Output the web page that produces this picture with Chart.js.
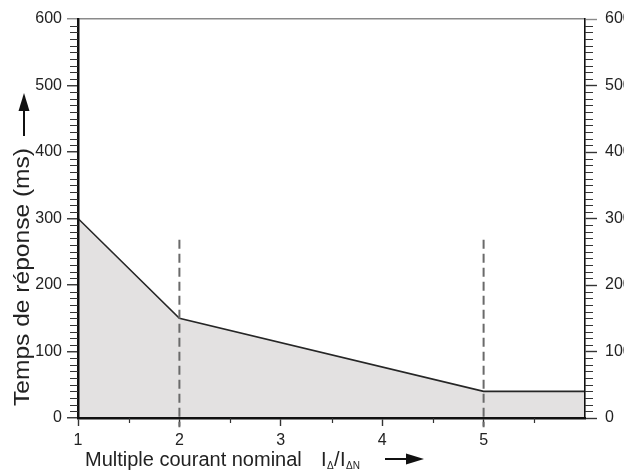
<!DOCTYPE html>
<html>
<head>
<meta charset="utf-8">
<script src="https://cdn.jsdelivr.net/npm/chart.js@4/dist/chart.umd.min.js"></script>
<style>
    html, body { margin: 0; padding: 0; background: #fff; overflow: hidden; }
    #wrap { position: relative; width: 624px; height: 475px; }
</style>
</head>
<body>
<div id="wrap"><canvas id="chart" width="624" height="475"></canvas></div>
<script>
// values
const multiples = [1, 2, 5, 6];
const responseMs = [300, 150, 40, 40];
const markerMultiples = [2, 5];
const markerRange = [268, -14];
const yMajorTicks = [0, 100, 200, 300, 400, 500, 600];
const xLabelTicks = [1, 2, 3, 4, 5];

const FONT = "'Liberation Sans', Arial, sans-serif";
const INK = '#222';

const isMajorY = (v) => yMajorTicks.includes(v);

// minor ticks, axis titles and arrows
const decorations = {
    id: 'decorations',
    afterDraw(chart) {
        const { ctx, chartArea } = chart;
        const y = chart.scales.y;
        const x = chart.scales.x;
        ctx.save();
        ctx.strokeStyle = '#333';
        ctx.lineWidth = 1.2;
        ctx.beginPath();
        for (let v = 0; v <= 600; v += 10) {
            if (isMajorY(v)) continue;
            const py = Math.round(y.getPixelForValue(v)) + 0.5;
            ctx.moveTo(chartArea.left - 8, py);
            ctx.lineTo(chartArea.left, py);
            ctx.moveTo(chartArea.right, py);
            ctx.lineTo(chartArea.right + 8, py);
        }
        for (let v = 1.5; v < 6; v += 1) {
            const px = Math.round(x.getPixelForValue(v)) + 0.5;
            ctx.moveTo(px, chartArea.bottom);
            ctx.lineTo(px, chartArea.bottom + 5);
        }
        ctx.stroke();

        // y title, stretched a bit like the scan
        ctx.fillStyle = INK;
        ctx.font = `22px ${FONT}`;
        const yTitle = 'Temps de réponse (ms)';
        const w = ctx.measureText(yTitle).width;
        ctx.save();
        ctx.translate(29, 277);
        ctx.rotate(-Math.PI / 2);
        ctx.scale(258 / w, 1);
        ctx.textAlign = 'center';
        ctx.textBaseline = 'alphabetic';
        ctx.fillText(yTitle, 0, 0);
        ctx.restore();

        // y arrow
        ctx.strokeStyle = '#111';
        ctx.lineWidth = 2;
        ctx.beginPath();
        ctx.moveTo(24, 136);
        ctx.lineTo(24, 106);
        ctx.stroke();
        ctx.fillStyle = '#111';
        ctx.beginPath();
        ctx.moveTo(24, 93);
        ctx.lineTo(18.5, 111);
        ctx.lineTo(29.5, 111);
        ctx.closePath();
        ctx.fill();

        // x title with subscripts
        ctx.fillStyle = INK;
        ctx.textAlign = 'left';
        ctx.textBaseline = 'alphabetic';
        ctx.font = `20px ${FONT}`;
        ctx.fillText('Multiple courant nominal', 85, 466);
        ctx.fillText('I', 321, 466);
        ctx.font = `10px ${FONT}`;
        ctx.fillText('Δ', 327, 469);
        ctx.font = `20px ${FONT}`;
        ctx.fillText('/', 334, 466);
        ctx.fillText('I', 340, 466);
        ctx.font = `10px ${FONT}`;
        ctx.fillText('ΔN', 346, 469);

        // x arrow
        ctx.strokeStyle = '#111';
        ctx.lineWidth = 2;
        ctx.beginPath();
        ctx.moveTo(385, 459);
        ctx.lineTo(410, 459);
        ctx.stroke();
        ctx.fillStyle = '#111';
        ctx.beginPath();
        ctx.moveTo(424, 459);
        ctx.lineTo(406, 453.5);
        ctx.lineTo(406, 464.5);
        ctx.closePath();
        ctx.fill();
        ctx.restore();
    }
};

const markerSets = markerMultiples.map(m => ({
    data: markerRange.map(v => ({ x: m, y: v })),
    borderColor: '#6a6a6a',
    borderWidth: 2,
    borderDash: [9, 5],
    pointRadius: 0,
    fill: false,
    clip: false,
    order: 0
}));

new Chart(document.getElementById('chart'), {
    type: 'line',
    data: {
        datasets: [
            ...markerSets,
            {
                data: multiples.map((m, i) => ({ x: m, y: responseMs[i] })),
                borderColor: '#262626',
                borderWidth: 1.6,
                backgroundColor: '#e3e1e1',
                fill: 'origin',
                tension: 0,
                pointRadius: 0,
                order: 1
            }
        ]
    },
    options: {
        responsive: false,
        animation: false,
        layout: { padding: { top: 19, left: 0, right: 0, bottom: 0 } },
        plugins: {
            legend: { display: false },
            tooltip: { enabled: false }
        },
        scales: {
            x: {
                type: 'linear',
                min: 1,
                max: 6,
                afterFit: (s) => { s.height = 57; },
                border: { display: true, color: '#111', width: 2.5, z: 1 },
                grid: {
                    drawOnChartArea: false,
                    tickLength: 8,
                    tickWidth: 1.4,
                    tickColor: (c) => (xLabelTicks.includes(c.tick.value) ? '#333' : 'transparent')
                },
                ticks: {
                    stepSize: 0.5,
                    autoSkip: false,
                    maxRotation: 0,
                    padding: 5,
                    color: INK,
                    font: { family: FONT, size: 16 },
                    callback: (v) => (xLabelTicks.includes(v) ? String(v) : '')
                }
            },
            y: {
                position: 'left',
                min: 0,
                max: 600,
                afterFit: (s) => { s.width = 78; },
                border: { display: true, color: '#111', width: 2.5, z: 1 },
                grid: {
                    drawOnChartArea: true,
                    tickLength: 11,
                    lineWidth: 1.5,
                    tickWidth: 1.4,
                    color: (c) => (c.tick && c.tick.value === 600 ? '#8a8a8a' : 'transparent'),
                    tickColor: (c) => {
                        if (c.tick.value === 600) return '#8a8a8a';
                        return isMajorY(c.tick.value) ? '#333' : 'transparent';
                    }
                },
                ticks: {
                    stepSize: 10,
                    autoSkip: false,
                    padding: 5,
                    color: INK,
                    font: { family: FONT, size: 16 },
                    callback: (v) => (isMajorY(v) ? String(v) : '')
                }
            },
            y2: {
                position: 'right',
                min: 0,
                max: 600,
                afterFit: (s) => { s.width = 39; },
                border: { display: true, color: '#111', width: 1.6, z: 1 },
                grid: {
                    drawOnChartArea: false,
                    tickLength: 12,
                    tickWidth: 1.4,
                    tickColor: (c) => {
                        if (c.tick.value === 600) return '#8a8a8a';
                        return isMajorY(c.tick.value) ? '#333' : 'transparent';
                    }
                },
                ticks: {
                    stepSize: 10,
                    autoSkip: false,
                    padding: 8,
                    color: INK,
                    font: { family: FONT, size: 16 },
                    callback: (v) => (isMajorY(v) ? String(v) : '')
                }
            }
        }
    },
    plugins: [decorations]
});
</script>
</body>
</html>
